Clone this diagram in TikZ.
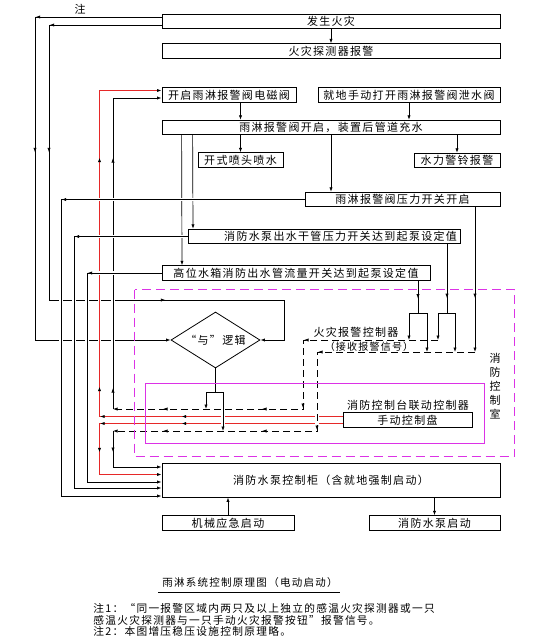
\documentclass[tikz,border=0pt]{standalone}
\usepackage{fontspec}
\setmainfont{Noto Sans CJK SC}[LetterSpace=12]
\usepackage{tikz}
\usetikzlibrary{arrows.meta,shapes.geometric,decorations.markings}
\definecolor{alarmred}{RGB}{230,40,40}
\definecolor{roommag}{RGB}{220,50,230}
\tikzstyle{blk}=[draw, rectangle, line width=0.8pt, inner sep=0pt, minimum height=14.5pt, font=\fontsize{11}{13}\selectfont]
\tikzstyle{gate}=[draw, diamond, aspect=1.6, inner sep=0pt, minimum width=89pt, minimum height=56pt, line width=0.8pt, font=\fontsize{11}{13}\selectfont]
\tikzstyle{txt}=[inner sep=0pt, font=\fontsize{11}{13}\selectfont]
\newcommand{\blk}{\node[blk]}

\begin{document}
\begin{tikzpicture}[x=1pt, y=-1pt, line width=0.7pt,
    >={Latex[length=4.5pt,width=3.2pt,color=black]},
    halo/.style={preaction={draw=white, solid, -, line width=3.5pt, shorten <=3pt, shorten >=3pt}},
    arrowat/.style={postaction={decorate, decoration={markings, mark=at position #1 with {\arrow{>}}}}},
    sig/.style={dash pattern=on 7pt off 4pt},
    hot/.style={draw=alarmred, line width=1.4pt},
    room/.style={draw=roommag, line width=1.3pt}
]
\useasboundingbox (0,0) rectangle (551,641);
\blk[minimum width=338pt] (fire) at (331,21.5) {发生火灾};
\blk[minimum width=338pt] (detector) at (331,51) {火灾探测器报警};
\blk[minimum width=134pt] (solenoid) at (229,95) {开启雨淋报警阀电磁阀};
\blk[minimum width=182pt] (manual) at (409,95) {就地手动打开雨淋报警阀泄水阀};
\blk[minimum width=338pt] (valveopen) at (331,127.5) {雨淋报警阀开启，装置后管道充水};
\blk[minimum width=85pt] (spray) at (240.5,160) {开式喷头喷水};
\blk[minimum width=86pt] (bell) at (457,160.5) {水力警铃报警};
\blk[minimum width=195pt] (psw) at (402.5,199.5) {雨淋报警阀压力开关开启};
\blk[minimum width=272pt, text width=266pt, align=right] (mainpipe) at (324,236.5) {消防水泵出水干管压力开关达到起泵设定值};
\blk[minimum width=268pt] (tank) at (296,273) {高位水箱消防出水管流量开关达到起泵设定值};
\blk[minimum width=129pt] (panel) at (407.5,420) {手动控制盘};
\blk[minimum width=338pt, minimum height=34pt] (cabinet) at (331,480) {消防水泵控制柜（含就地强制启动）};
\blk[minimum width=132pt] (mech) at (228,523) {机械应急启动};
\blk[minimum width=131pt] (pump) at (434.5,523) {消防水泵启动};
\node[gate] (andgate) at (215.5,340) {“与”逻辑};
\coordinate (busA) at (438,340);
\coordinate (busB) at (475,352);
\coordinate (sigup) at (113,409);
\coordinate (sigdown) at (113,431);
\coordinate (andfork) at (215.5,392);
\coordinate (forkA) at (447,313);
\coordinate (forkB) at (418,313);

% alarm signal to the and gate
\draw[->, arrowat=126pt, arrowat=262pt] ([yshift=4.5pt]fire.west) -- (35,17) -- (35,340) -- (andgate.west);
\draw[->, arrowat=112pt, arrowat=240pt, arrowat=504pt] ([yshift=-3.5pt]fire.west) -- (49,25) -- (49,300) -- (284,300) -- (284,340) -- (andgate.east);
\node[txt] (note) at (80,9) {注};

\draw[->] ([xshift=31pt]valveopen.south west) -- (mainpipe.north -| 193,0);
\draw[->] ([xshift=20pt]valveopen.south west) -- (tank.north -| 182,0);

% manual panel lines
\draw[hot, halo, ->, arrowat=161pt, arrowat=242.5pt, arrowat=273pt, arrowat=502pt] ([yshift=3.5pt]panel.west) -- (99.5,416.5) -- (99.5,90.5) -- ([yshift=4.5pt]solenoid.west);
\draw[hot, halo, ->, arrowat=161pt, arrowat=242.5pt, arrowat=272pt] ([yshift=-3.5pt]panel.west) -- (99.5,423.5) -- (99.5,474.5) -- ([yshift=5.5pt]cabinet.west);

% alarm controller outputs
\draw[sig, halo, ->, arrowat=134pt, arrowat=203pt, arrowat=245pt, arrowat=344pt] (busA) -- (303,340) -- (303,409) -- (sigup);
\draw[halo, ->, arrowat=21pt, arrowat=251pt] (sigup) -- (113,98) -- ([yshift=-3pt]solenoid.west);
\draw[sig, halo, ->, arrowat=157pt, arrowat=236pt, arrowat=292pt, arrowat=391pt] (busB) -- (317,352) -- (317,431) -- (sigdown);
\draw[halo, ->, arrowat=21pt] (sigdown) -- (113,467) -- ([yshift=13pt]cabinet.west);

\draw (andgate.south) -- (andfork);
\draw[->] (andfork) -| (206,409);
\draw[->, halo] (andfork) -| (223,431);

% switches to the pump cabinet
\draw[halo, ->, arrowat=243pt] (psw.west) -- (61,199.5) -- (61,496) -- ([yshift=-16pt]cabinet.west);
\draw[halo, ->, arrowat=113pt] (mainpipe.west) -- (74,236.5) -- (74,488) -- ([yshift=-8pt]cabinet.west);
\draw[halo, ->, arrowat=74pt] (tank.west) -- (87,273) -- (87,482) -- ([yshift=-2pt]cabinet.west);

\draw[arrowat=54pt] (mainpipe.south -| 447,0) -- (forkA);
\draw[->] (forkA) -| (busA);
\draw[->] (forkA) -| (455,352);
\draw[arrowat=18pt] (tank.south -| 418,0) -- (forkB);
\draw[->] (forkB) -| (409,340);
\draw[->] (forkB) -| (427,352);
\draw[->, arrowat=91pt] (psw.south -| 475,0) -- (busB);

\draw[->] (fire) -- (detector);
\draw[->] (solenoid.south -| spray.north) -- (valveopen.north -| spray.north);
\draw[->] (manual) -- (manual.south |- valveopen.north);
\draw[->] (valveopen.south -| spray.north) -- (spray);
\draw[->] (valveopen.south -| bell.north) -- (bell);
\draw[->] (valveopen) -- (valveopen.south |- psw.north);
\draw[->] (mech) -- (mech.north |- cabinet.south);
\draw[->] (cabinet.south -| pump.north) -- (pump);

% control room
\draw[room, dash pattern=on 9pt off 5pt] (134.5,289.5) rectangle (514.5,456.5);
\draw[room] (145.5,383.5) rectangle (484.5,443.5);
\node[txt] (alarmctl) at (356,332) {火灾报警控制器};
\node[txt, font=\fontsize{10}{12}\selectfont] (alarmrx) at (369,347) {（接收报警信号）};
\node[txt] (linkctl) at (408,405) {消防控制台联动控制器};
\node[txt, align=center, font=\fontsize{11}{14}\selectfont] (ctlroom) at (495,386) {消\\防\\控\\制\\室};

% caption and notes
\node[txt, font=\fontsize{10.5}{12}\selectfont] (caption) at (250,583) {雨淋系统控制原理图（电动启动）};
\draw (158,592) -- (340,592);
\node[txt, anchor=west, font=\fontsize{10.7}{12}\selectfont] (note1a) at (93,608) {注1：“同一报警区域内两只及以上独立的感温火灾探测器或一只};
\node[txt, anchor=west, font=\fontsize{10.7}{12}\selectfont] (note1b) at (93,620) {感温火灾探测器与一只手动火灾报警按钮”报警信号。};
\node[txt, anchor=west, font=\fontsize{10.7}{12}\selectfont] (note2) at (93,631.5) {注2：本图增压稳压设施控制原理略。};
\end{tikzpicture}
\end{document}
